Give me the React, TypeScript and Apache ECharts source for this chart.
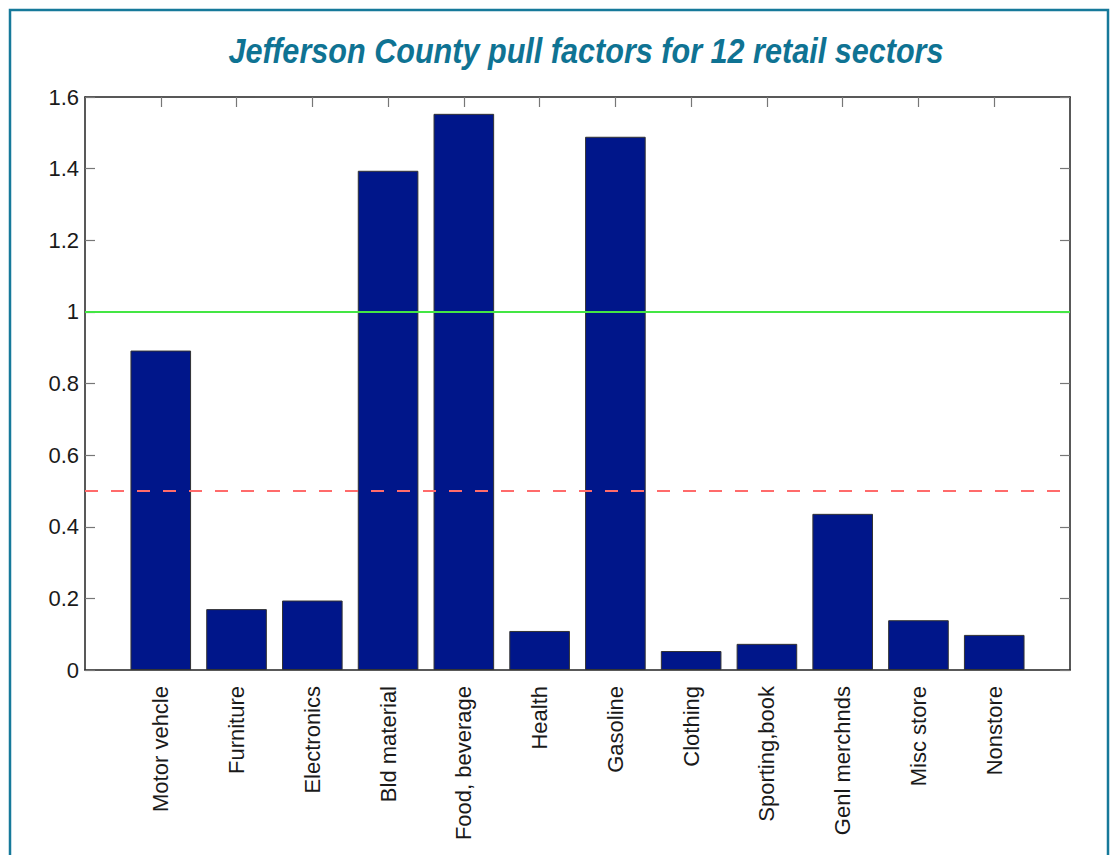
import React, { useEffect, useRef } from "react";
import * as echarts from "echarts";

const categories = [
  "Motor vehcle",
  "Furniture",
  "Electronics",
  "Bld material",
  "Food, beverage",
  "Health",
  "Gasoline",
  "Clothing",
  "Sporting,book",
  "Genl merchnds",
  "Misc store",
  "Nonstore",
];
const pullFactors = [0.892, 0.17, 0.194, 1.394, 1.553, 0.109, 1.489, 0.053, 0.073, 0.436, 0.139, 0.098];
const yTicks = { min: 0, max: 1.6, interval: 0.2 };
const referenceLines = { full: 1, half: 0.5 };
const titleText = "Jefferson County pull factors for 12 retail sectors";

export default function App() {
  const ref = useRef<HTMLDivElement>(null);
  useEffect(() => {
    if (!ref.current) return;
    const chart = echarts.init(ref.current, undefined, { renderer: "svg" });
    const axisCats = ["", ...categories, ""];
    const barData: any[] = ["-", ...pullFactors, "-"];
    const n = axisCats.length;
    const inner = (idx: number) => idx > 0 && idx < n - 1;
    const lineColor = "#222";
    const tickStyle = { color: "#777", width: 1.2 };
    chart.setOption({
      animation: false,
      backgroundColor: "#fff",
      grid: { left: 85, right: 40, top: 97, bottom: 185, containLabel: false },
      graphic: [
        {
          type: "rect",
          shape: { x: 10, y: 10, width: 1098, height: 900 },
          style: { fill: "none", stroke: "#16799a", lineWidth: 2.5 },
          silent: true,
        },
        {
          type: "text",
          x: 586,
          y: 51,
          scaleX: 0.85,
          style: {
            text: titleText,
            fill: "#0f7393",
            font: "italic bold 36px 'Liberation Sans', Arial, sans-serif",
            textAlign: "center",
            textVerticalAlign: "middle",
          },
          silent: true,
        },
      ],
      xAxis: [
        {
          type: "category",
          data: axisCats,
          boundaryGap: false,
          position: "bottom",
          axisLine: { show: true, onZero: false, lineStyle: { color: lineColor, width: 1.5 } },
          axisTick: { show: true, inside: true, length: 10, interval: inner, lineStyle: tickStyle },
          axisLabel: {
            show: true,
            interval: 0,
            rotate: 90,
            margin: 16,
            fontSize: 22,
            color: "#1a1a1a",
            fontFamily: "'Liberation Sans', Arial, sans-serif",
          },
          splitLine: { show: false },
        },
        {
          type: "category",
          data: axisCats,
          boundaryGap: false,
          position: "top",
          axisLine: { show: true, onZero: false, lineStyle: { color: lineColor, width: 1.5 } },
          axisTick: { show: true, inside: true, length: 10, interval: inner, lineStyle: tickStyle },
          axisLabel: { show: false },
          splitLine: { show: false },
        },
      ],
      yAxis: [
        {
          type: "value",
          min: yTicks.min,
          max: yTicks.max,
          interval: yTicks.interval,
          position: "left",
          axisLine: { show: true, onZero: false, lineStyle: { color: lineColor, width: 1.5 } },
          axisTick: { show: true, inside: true, length: 10, lineStyle: tickStyle },
          axisLabel: {
            margin: 6,
            fontSize: 22,
            color: "#1a1a1a",
            fontFamily: "'Liberation Sans', Arial, sans-serif",
            formatter: (v: number) => String(Math.round(v * 10) / 10),
          },
          splitLine: { show: false },
        },
        {
          type: "value",
          min: yTicks.min,
          max: yTicks.max,
          interval: yTicks.interval,
          position: "right",
          axisLine: { show: true, onZero: false, lineStyle: { color: lineColor, width: 1.5 } },
          axisTick: { show: true, inside: true, length: 10, lineStyle: tickStyle },
          axisLabel: { show: false },
          splitLine: { show: false },
        },
      ],
      series: [
        {
          type: "bar",
          xAxisIndex: 0,
          yAxisIndex: 0,
          data: barData,
          barWidth: "80%",
          itemStyle: { color: "#00168a", borderColor: "#333", borderWidth: 1 },
          silent: true,
          markLine: {
            silent: true,
            symbol: "none",
            label: { show: false },
            z: 10,
            data: [
              { yAxis: referenceLines.full, lineStyle: { color: "#44e644", width: 2, type: "solid" } },
              { yAxis: referenceLines.half, lineStyle: { color: "#ff6b6b", width: 2, type: [13, 13] } },
            ],
          },
        },
      ],
    });
    return () => chart.dispose();
  }, []);
  return (
    <div
      ref={ref}
      style={{ position: "absolute", left: 0, top: 0, width: 1110, height: 855 }}
    />
  );
}
